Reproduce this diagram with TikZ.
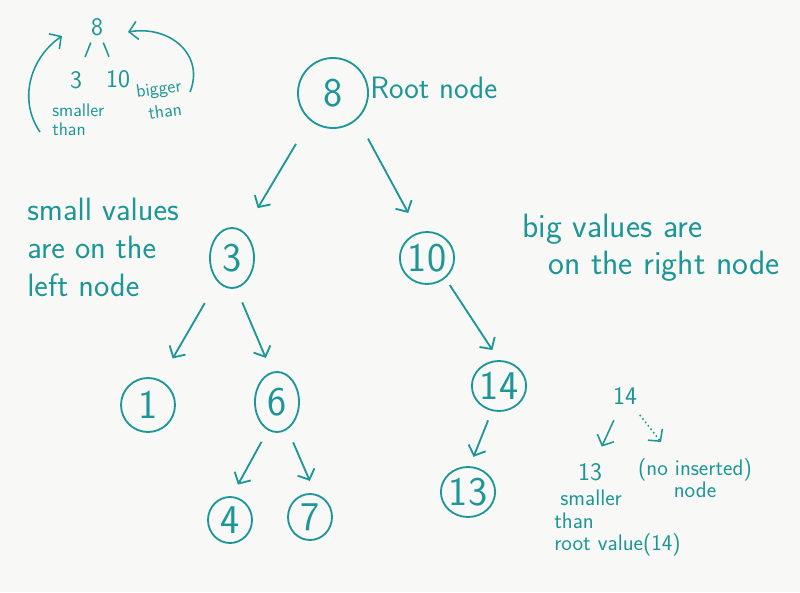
\documentclass[tikz,border=0pt]{standalone}
\usepackage{tikz}
\usetikzlibrary{arrows.meta,shapes.geometric}
\definecolor{ink}{RGB}{28,150,150}
\definecolor{paper}{RGB}{248,248,246}

\tikzset{
  vnode/.style={draw=ink, line width=1.3pt, ellipse, inner sep=0pt,
    minimum width=1.3cm, minimum height=1.3cm, text=ink,
    font=\sffamily\fontsize{29}{32}\selectfont},
  branch/.style={draw=ink, line width=1.3pt, -{Straight Barb[length=6pt,width=13pt]}},
  note/.style={text=ink, align=left, inner sep=0pt, font=\sffamily\fontsize{23}{27}\selectfont},
  digit/.style={text=ink, inner sep=0pt, font=\sffamily\fontsize{18}{20}\selectfont},
  small/.style={text=ink, align=left, inner sep=0pt, font=\sffamily\fontsize{16}{16}\selectfont},
  tiny/.style={text=ink, align=left, inner sep=0pt, font=\sffamily\fontsize{13}{13}\selectfont}
}

\begin{document}
\begin{tikzpicture}[x=0.025cm, y=-0.025cm]
        \fill [paper] (0,0) rectangle (800,592);
        \useasboundingbox (0,0) rectangle (800,592);

        % the tree
        \node [vnode, minimum width=1.75cm, minimum height=1.75cm] (n8) at (333,93) {8};  %root
        \node [vnode, minimum width=1.1cm, minimum height=1.5cm]   (n3) at (232,258) {3};
        \node [vnode, minimum width=1.3cm]                        (n10) at (427,258) {10};
        \node [vnode, minimum width=1.35cm, minimum height=1.35cm] (n1) at (148,405) {1};
        \node [vnode, minimum width=1.1cm, minimum height=1.5cm]   (n6) at (277,402) {6};
        \node [vnode, minimum height=1.25cm]                      (n14) at (499,386) {14};
        \node [vnode, minimum height=1.25cm]                      (n13) at (468,492) {13};
        \node [vnode, minimum width=1.1cm, minimum height=1.15cm]  (n4) at (230,520) {4};
        \node [vnode, minimum width=1.1cm, minimum height=1.15cm]  (n7) at (310,517) {7};

        \draw [branch, shorten <=0.68cm, shorten >=0.68cm] (n8.230)  -- (n3.66);   %left
        \draw [branch, shorten <=0.55cm, shorten >=0.55cm] (n8.313)  -- (n10.108); %right
        \draw [branch, shorten <=0.62cm, shorten >=0.62cm] (n3.238)  -- (n1.64);
        \draw [branch, shorten <=0.38cm, shorten >=0.38cm] (n3.278)  -- (n6.100);
        \draw [branch, shorten <=0.2cm, shorten >=0.3cm]   (n10.312) -- (n14.north);
        \draw [branch, shorten <=0.25cm, shorten >=0.25cm] (n14.254) -- (n13.86);
        \draw [branch, shorten <=0.33cm, shorten >=0.33cm] (n6.252)  -- (n4.86);
        \draw [branch, shorten <=0.35cm, shorten >=0.35cm] (n6.291)  -- (n7.77);

        % notes
        \node [note, anchor=west, font=\sffamily\fontsize{22}{26}\selectfont] (root) at (370,88) {Root node};
        \node [note, anchor=north west] (left) at (27,198) {small values\\are on the\\left node};
        \node [note, anchor=north west, font=\sffamily\fontsize{24}{26}\selectfont] (right) at (522,214)
              {big values are\\\hspace*{0.65cm}on the right node};

        % small tree, top left
        \node [digit] (m8)  at (97,27)  {8};
        \node [digit] (m3)  at (76,80)  {3};
        \node [digit] (m10) at (118,79) {10};
        \draw [ink, line width=1.1pt, shorten <=0.42cm, shorten >=0.62cm] (m8.center) -- (m3.center);
        \draw [ink, line width=1.1pt, shorten <=0.42cm, shorten >=0.6cm]  (m8.center) -- (m10.center);
        \node [tiny, anchor=north west] (mless) at (52,104) {smaller\\than};
        \node [tiny, rotate=8] (mbig)  at (159,90)  {bigger};
        \node [tiny, rotate=8] (mthan) at (165,111) {than};
        \coordinate (la) at (40,132);
        \coordinate (ra) at (190,92);
        \draw [branch, line width=1.1pt] (la) .. controls (18,100) and (30,58) .. (62,36);
        \draw [branch, line width=1.1pt] (ra) .. controls (205,55) and (170,25) .. (128,32);

        % small tree, bottom right
        \node [digit] (s14) at (625,396) {14};
        \node [digit] (s13) at (590,472) {13};
        \node [small, align=center] (sno) at (695,478) {(no inserted)\\node};
        \node [small, anchor=north west] (sless) at (554,490) {\hspace*{0.15cm}smaller\\than\\root value(14)};
        \coordinate (sdot) at (661,442);
        \draw [branch, line width=1.1pt, shorten <=0.67cm, shorten >=0.7cm] (s14.center) -- (s13.center);
        \draw [branch, line width=1.1pt, dotted, shorten <=0.6cm] (s14.center) -- (sdot);
\end{tikzpicture}
\end{document}
